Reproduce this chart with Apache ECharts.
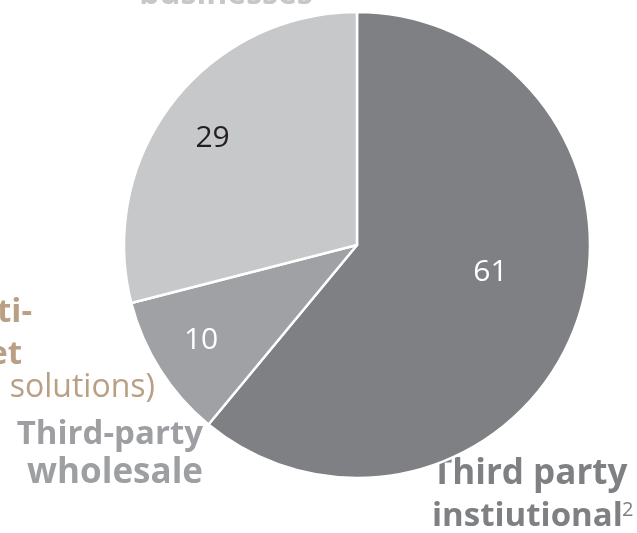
<!DOCTYPE html>
<html>
<head>
<meta charset="utf-8">
<script src="https://cdn.jsdelivr.net/npm/echarts@6/dist/echarts.min.js"></script>
<style>
html,body{margin:0;padding:0;background:#fff;}
#chart{width:637px;height:533px;}
</style>
</head>
<body>
<div id="chart"></div>
<script>
var categories = ['Third party instiutional', 'Third-party wholesale', 'Other businesses'];
var values = [61, 10, 29];
var sliceColors = ['#7f8084', '#9fa1a4', '#c7c8ca'];
var labelColors = ['#ffffff', '#ffffff', '#231f20'];
var labelOffsets = [[21, -13], [-55, 31], [-50, -33]];

var chart = echarts.init(document.getElementById('chart'), null, {renderer: 'canvas'});
var F = '"Open Sans", "DejaVu Sans", sans-serif';

function txt(text, x, y, size, weight, color, align) {
  return {
    type: 'text', x: x, y: y, silent: true,
    style: {text: text, font: weight + ' ' + size + 'px ' + F, fill: color,
            align: align, verticalAlign: 'middle'}
  };
}

var data = values.map(function (v, i) {
  return {
    name: categories[i], value: v,
    itemStyle: {color: sliceColors[i]},
    label: {color: labelColors[i], offset: labelOffsets[i]}
  };
});

chart.setOption({
  animation: false,
  backgroundColor: '#ffffff',
  series: [{
    type: 'pie',
    center: [357, 245],
    radius: [0, 233],
    startAngle: 90,
    clockwise: true,
    data: data,
    itemStyle: {borderColor: '#ffffff', borderWidth: 2.5},
    label: {show: true, position: 'inside', formatter: '{c}', fontFamily: F, fontSize: 30},
    labelLine: {show: false},
    emphasis: {disabled: true}
  }],
  graphic: [
    txt('businesses', 226, 5 - 10, 32, 'bold', '#c6c7c9', 'center'),
    txt('Multi-', 32, 323 - 10, 33, 'bold', '#b9a085', 'right'),
    txt('asset', 22, 365 - 10, 33, 'bold', '#b9a085', 'right'),
    txt('(incl. solutions)', 155, 398 - 10, 32, 'normal', '#b9a085', 'right'),
    txt('Third-party', 203, 445 - 10, 33, 'bold', '#9d9fa2', 'right'),
    txt('wholesale', 203, 483 - 10, 35, 'bold', '#9d9fa2', 'right'),
    txt('Third party', 432, 484 - 10, 35, 'bold', '#7f8084', 'left'),
    txt('instiutional', 432, 527 - 10, 33, 'bold', '#7f8084', 'left'),
    txt('2', 622, 510, 20, 'normal', '#7f8084', 'left')
  ]
});
</script>
</body>
</html>
